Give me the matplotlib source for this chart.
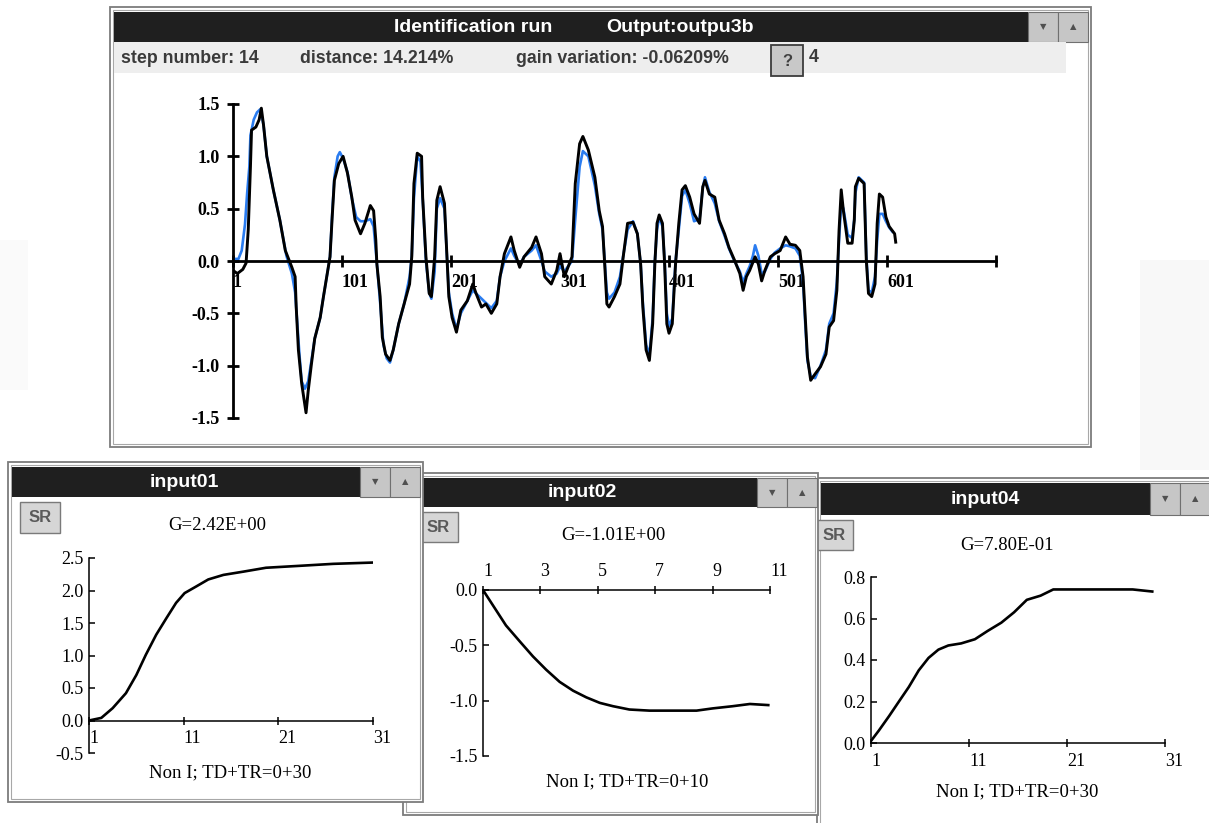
import matplotlib
matplotlib.use("Agg")
import matplotlib.pyplot as plt
from matplotlib.patches import Rectangle
import numpy as np

W, H = 1209, 823

# ---------------- data ----------------
main_xticks = [1, 101, 201, 301, 401, 501, 601, 701]
main_xticklabels = ["1", "101", "201", "301", "401", "501", "601", ""]
main_yticks = [-1.5, -1.0, -0.5, 0.0, 0.5, 1.0, 1.5]

# model output (black): (sample, value)
black_pts = [(1, -0.09), (5, -0.12), (10, -0.08), (13, -0.02), (15, 0.3), (17, 0.9), (18, 1.25),
             (22, 1.28), (25, 1.35), (27, 1.46), (29, 1.3), (32, 1.0), (38, 0.68), (44, 0.39),
             (49, 0.1), (55, -0.06), (58, -0.15), (59, -0.44), (61, -0.85), (64, -1.17), (68, -1.45),
             (70, -1.24), (73, -0.98), (76, -0.74), (81, -0.54), (84, -0.34), (87, -0.15), (90, 0.04),
             (92, 0.42), (94, 0.77), (98, 0.93), (102, 1.0), (106, 0.84), (110, 0.61), (113, 0.39),
             (118, 0.26), (122, 0.36), (127, 0.53), (130, 0.48), (132, 0.2), (133, -0.03), (136, -0.34),
             (138, -0.73), (141, -0.89), (145, -0.95), (148, -0.85), (153, -0.6), (158, -0.41),
             (163, -0.22), (165, 0.04), (167, 0.74), (170, 1.03), (174, 1.0), (175, 0.61), (178, 0.04),
             (181, -0.31), (183, -0.34), (186, 0.04), (188, 0.58), (191, 0.71), (195, 0.55), (197, 0.1),
             (199, -0.34), (202, -0.54), (206, -0.68), (210, -0.47), (216, -0.38), (221, -0.22),
             (224, -0.31), (229, -0.44), (233, -0.41), (238, -0.5), (243, -0.41), (246, -0.15),
             (250, 0.07), (256, 0.23), (259, 0.1), (264, -0.06), (268, 0.04), (275, 0.13), (279, 0.23),
             (284, 0.07), (287, -0.15), (293, -0.22), (298, -0.09), (301, 0.07), (305, -0.15),
             (312, 0.04), (315, 0.74), (319, 1.12), (322, 1.19), (327, 1.06), (333, 0.8), (337, 0.48),
             (340, 0.33), (342, -0.03), (344, -0.41), (346, -0.44), (351, -0.34), (356, -0.22),
             (359, 0.04), (363, 0.36), (368, 0.37), (372, 0.26), (375, -0.03), (377, -0.44),
             (380, -0.85), (383, -0.95), (386, -0.6), (388, -0.03), (390, 0.36), (392, 0.44),
             (395, 0.36), (397, -0.03), (399, -0.6), (401, -0.69), (404, -0.6), (407, -0.03),
             (410, 0.36), (413, 0.68), (416, 0.72), (420, 0.61), (424, 0.45), (429, 0.36), (432, 0.71),
             (434, 0.77), (438, 0.64), (443, 0.61), (447, 0.39), (452, 0.26), (456, 0.13), (461, 0.01),
             (466, -0.12), (469, -0.28), (472, -0.15), (475, -0.09), (480, 0.04), (483, -0.03),
             (486, -0.19), (489, -0.09), (494, 0.04), (498, 0.07), (503, 0.1), (508, 0.23), (512, 0.16),
             (517, 0.15), (521, 0.1), (524, -0.15), (526, -0.54), (528, -0.92), (531, -1.14),
             (535, -1.08), (540, -1.01), (545, -0.89), (548, -0.63), (552, -0.57), (555, -0.28),
             (557, 0.29), (559, 0.68), (561, 0.48), (565, 0.17), (569, 0.17), (571, 0.39), (572, 0.71),
             (575, 0.79), (580, 0.74), (582, 0.01), (584, -0.31), (587, -0.34), (590, -0.22),
             (592, 0.36), (594, 0.64), (597, 0.61), (600, 0.42), (603, 0.33), (608, 0.26), (609, 0.18)]

# measured output (blue)
blue_pts = [(1, 0.02), (6, 0.02), (9, 0.1), (12, 0.35), (14, 0.65), (16, 0.9), (17, 1.2), (20, 1.35),
            (23, 1.42), (26, 1.45), (29, 1.3), (32, 1.0), (38, 0.68), (44, 0.39), (50, 0.05),
            (55, -0.12), (58, -0.3), (60, -0.6), (62, -0.9), (64, -1.15), (67, -1.22), (70, -1.15),
            (73, -0.95), (76, -0.74), (81, -0.54), (84, -0.34), (87, -0.15), (90, 0.04), (92, 0.45),
            (94, 0.8), (97, 1.0), (99, 1.04), (102, 0.98), (106, 0.85), (110, 0.6), (114, 0.42),
            (118, 0.38), (122, 0.38), (127, 0.4), (130, 0.33), (132, 0.1), (134, -0.15), (136, -0.4),
            (139, -0.8), (142, -0.93), (145, -0.97), (148, -0.85), (153, -0.6), (158, -0.41),
            (163, -0.15), (165, 0.05), (167, 0.6), (170, 1.0), (173, 0.95), (175, 0.6), (178, 0.0),
            (181, -0.3), (183, -0.36), (186, -0.1), (188, 0.5), (191, 0.6), (195, 0.5), (197, 0.1),
            (199, -0.3), (202, -0.5), (206, -0.65), (210, -0.5), (216, -0.38), (221, -0.28),
            (226, -0.33), (231, -0.38), (238, -0.45), (243, -0.38), (246, -0.15), (250, 0.0),
            (256, 0.12), (259, 0.05), (264, -0.04), (268, 0.04), (275, 0.1), (279, 0.15), (284, 0.0),
            (287, -0.1), (293, -0.15), (298, -0.12), (301, -0.05), (305, -0.1), (312, 0.0), (315, 0.4),
            (319, 0.9), (322, 1.05), (327, 1.0), (333, 0.72), (337, 0.45), (340, 0.3), (342, 0.0),
            (344, -0.3), (346, -0.36), (351, -0.3), (356, -0.15), (359, 0.05), (363, 0.3), (368, 0.38),
            (372, 0.26), (375, -0.03), (377, -0.4), (380, -0.8), (383, -0.9), (386, -0.55), (388, 0.0),
            (390, 0.3), (392, 0.42), (395, 0.33), (397, 0.0), (399, -0.5), (401, -0.62), (404, -0.55),
            (407, 0.0), (410, 0.3), (413, 0.62), (416, 0.68), (420, 0.55), (424, 0.38), (429, 0.4),
            (432, 0.7), (434, 0.8), (438, 0.66), (443, 0.55), (447, 0.38), (452, 0.24), (456, 0.12),
            (461, 0.0), (466, -0.1), (469, -0.2), (472, -0.12), (475, -0.05), (478, 0.05), (480, 0.15),
            (483, 0.05), (486, -0.12), (489, -0.1), (494, 0.02), (498, 0.08), (503, 0.12), (508, 0.15),
            (512, 0.14), (517, 0.12), (521, 0.05), (524, -0.2), (526, -0.6), (528, -0.95), (531, -1.1),
            (535, -1.12), (540, -1.0), (545, -0.85), (548, -0.6), (552, -0.5), (555, -0.2), (557, 0.2),
            (559, 0.55), (561, 0.5), (565, 0.25), (569, 0.22), (571, 0.4), (572, 0.65), (575, 0.8),
            (580, 0.75), (582, 0.05), (584, -0.28), (587, -0.3), (590, -0.15), (592, 0.2), (594, 0.45),
            (597, 0.45), (600, 0.38), (603, 0.32), (606, 0.28)]

# step responses
in01_x = [1, 2.3, 3.5, 4.9, 6, 7, 8.1, 9.2, 10.2, 11.1, 12.3, 13.6, 15.2, 17.3, 19.7, 23.3, 26.8, 31]
in01_y = [0.0, 0.04, 0.19, 0.42, 0.7, 1.01, 1.32, 1.58, 1.81, 1.96, 2.06, 2.17, 2.24, 2.29, 2.35, 2.38, 2.41, 2.43]
in01_xticks = [1, 11, 21, 31]
in01_yticks = [-0.5, 0.0, 0.5, 1.0, 1.5, 2.0, 2.5]

in02_x = [1, 1.35, 1.8, 2.3, 2.74, 3.2, 3.67, 4.14, 4.6, 5.07, 5.53, 6.1, 6.8, 7.6, 8.44, 9.0, 9.7, 10.3, 10.94]
in02_y = [0.0, -0.14, -0.32, -0.47, -0.6, -0.72, -0.83, -0.91, -0.97, -1.02, -1.05, -1.08, -1.09, -1.09,
          -1.09, -1.07, -1.05, -1.03, -1.04]
in02_xticks = [1, 3, 5, 7, 9, 11]
in02_yticks = [-1.5, -1.0, -0.5, 0.0]

in04_x = [1, 1.8, 2.85, 3.85, 4.86, 5.87, 6.87, 7.88, 8.89, 10.2, 11.6, 12.9, 14.3, 15.6, 16.9, 18.3,
          19.6, 21.6, 25, 27.7, 29.7]
in04_y = [0.01, 0.06, 0.13, 0.2, 0.27, 0.35, 0.41, 0.45, 0.47, 0.48, 0.5, 0.54, 0.58, 0.63, 0.69, 0.71,
          0.74, 0.74, 0.74, 0.74, 0.73]
in04_xticks = [1, 11, 21, 31]
in04_yticks = [0.0, 0.2, 0.4, 0.6, 0.8]

# ---------------- drawing ----------------
SANS = ["Liberation Sans", "DejaVu Sans"]
SERIF = ["Liberation Serif", "DejaVu Serif"]

fig = plt.figure(figsize=(W / 100, H / 100), dpi=100)
fig.patch.set_facecolor("white")
bg = fig.add_axes([0, 0, 1, 1])
bg.set_xlim(0, W)
bg.set_ylim(H, 0)
bg.axis("off")


def rect(x0, y0, x1, y1, fc, ec="none", lw=0.0, z=1):
    bg.add_patch(Rectangle((x0, y0), x1 - x0, y1 - y0, facecolor=fc, edgecolor=ec, linewidth=lw, zorder=z))


def window(x0, y0, x1, y1, tb_y0, tb_y1, tb_right, z):
    rect(x0, y0, x1, y1, "white", "#7c7c7c", 1.3, z)
    rect(x0 + 3, y0 + 3, x1 - 3, y1 - 3, "none", "#a8a8a8", 0.8, z + 0.01)
    rect(x0 + 4, tb_y0, tb_right, tb_y1, "#1f1f1f", "none", 0, z + 0.02)
    for k, glyph in enumerate(["\u25BC", "\u25B2"]):
        bx0 = tb_right + 30 * k
        rect(bx0, tb_y0, bx0 + 30, tb_y1, "#c6c6c6", "#707070", 0.8, z + 0.02)
        bg.text(bx0 + 15, (tb_y0 + tb_y1) / 2, glyph, ha="center", va="center", fontsize=6,
                color="#505050", zorder=z + 0.03, family=["DejaVu Sans"])


def title(x, y, s, z):
    bg.text(x, y, s, ha="center", va="center", color="white", fontsize=14, fontweight="bold",
            family=SANS, zorder=z + 0.03)


def sr_button(x0, y0, x1, y1, z):
    rect(x0, y0, x1, y1, "#d6d6d6", "#7a7a7a", 1.0, z)
    bg.text((x0 + x1) / 2, (y0 + y1) / 2, "SR", ha="center", va="center", fontsize=12,
            fontweight="bold", color="#5a5a5a", family=SANS, zorder=z + 0.01)


# faint page background artefacts
rect(1140, 260, 1209, 470, "#f8f8f8", z=0.5)
rect(0, 240, 28, 390, "#fafafa", z=0.5)

# main window
window(110, 7, 1091, 447, 12, 42, 1028, 1)
title(473, 27, "Identification run", 1)
title(680, 27, "Output:outpu3b", 1)
rect(114, 42, 1066, 73, "#eeeeee", z=1.05)
info_kw = dict(va="center", fontsize=12.8, fontweight="bold", color="#3a3a3a", family=SANS, zorder=1.1)
bg.text(121, 58, "step number: 14", **info_kw)
bg.text(300, 58, "distance: 14.214%", **info_kw)
bg.text(516, 58, "gain variation: -0.06209%", **info_kw)
rect(771, 45, 803, 76, "#c8c8c8", "#3c3c3c", 1.3, 1.1)
bg.text(787, 61, "?", ha="center", va="center", fontsize=12, fontweight="bold", color="#404040",
        family=SANS, zorder=1.2)
bg.text(809, 57, "4", **info_kw)

# small windows: stacking input04 < input02 < input01
window(817, 478, 1240, 850, 483, 515, 1150, 2)
title(985, 499, "input04", 2)
sr_button(815, 520, 853, 550, 2.1)
window(403, 473, 818, 815, 478, 507, 757, 3)
title(582, 492, "input02", 3)
sr_button(418, 512, 458, 542, 3.1)
window(8, 462, 423, 802, 467, 497, 360, 4)
title(184, 482, "input01", 4)
sr_button(20, 502, 60, 533, 4.1)

serif_kw = dict(ha="center", va="center", fontsize=13.5, color="black", family=SERIF, zorder=5)
bg.text(217, 525, "G=2.42E+00", **serif_kw)
bg.text(230, 773, "Non I; TD+TR=0+30", **serif_kw)
bg.text(613, 535, "G=-1.01E+00", **serif_kw)
bg.text(627, 782, "Non I; TD+TR=0+10", **serif_kw)
bg.text(1007, 545, "G=7.80E-01", **serif_kw)
bg.text(1017, 792, "Non I; TD+TR=0+30", **serif_kw)


def add_ax(x0, y0, x1, y1):
    a = fig.add_axes([x0 / W, 1 - y1 / H, (x1 - x0) / W, (y1 - y0) / H])
    a.set_facecolor("none")
    return a


# ---- main chart ----
ax = add_ax(233, 104, 996, 418)
ax.set_xlim(1, 701)
ax.set_ylim(-1.5, 1.5)
bx, by = zip(*blue_pts)
kx, ky = zip(*black_pts)
ax.plot(bx, by, color="#2a7cf0", lw=1.9, zorder=2)
ax.plot(kx, ky, color="black", lw=2.1, zorder=3)
for s in ["top", "right"]:
    ax.spines[s].set_visible(False)
ax.spines["bottom"].set_position(("data", 0))
ax.spines["left"].set_linewidth(2)
ax.spines["bottom"].set_linewidth(2)
ax.set_xticks(main_xticks)
ax.set_xticklabels(main_xticklabels)
ax.set_yticks(main_yticks)
ax.set_yticklabels([f"{v:.1f}" for v in main_yticks])
ax.tick_params(axis="both", direction="inout", length=9, width=2, labelsize=13, pad=5)
for lab in ax.get_xticklabels():
    lab.set_ha("left")
for lab in ax.get_xticklabels() + ax.get_yticklabels():
    lab.set_family(SERIF)
    lab.set_fontweight("bold")


def small(a, xs, ys, xt, yt, xlim, ylim, top=False):
    a.plot(xs, ys, color="black", lw=1.9)
    a.set_xlim(*xlim)
    a.set_ylim(*ylim)
    a.spines["right"].set_visible(False)
    if top:
        a.spines["bottom"].set_visible(False)
        a.xaxis.tick_top()
    else:
        a.spines["top"].set_visible(False)
        a.spines["bottom"].set_position(("data", 0))
    for s in a.spines.values():
        s.set_linewidth(1.1)
    a.set_xticks(xt)
    a.set_xticklabels([str(v) for v in xt])
    a.set_yticks(yt)
    a.set_yticklabels([f"{v:.1f}" for v in yt])
    a.tick_params(axis="x", direction="inout", length=6, width=1.1, labelsize=13, pad=4)
    a.tick_params(axis="y", direction="in", length=4, width=1.1, labelsize=13, pad=4)
    for lab in a.get_xticklabels():
        lab.set_ha("left")
    for lab in a.get_xticklabels() + a.get_yticklabels():
        lab.set_family(SERIF)


a1 = add_ax(89, 558, 373, 753)
small(a1, in01_x, in01_y, in01_xticks, in01_yticks, (1, 31), (-0.5, 2.5))
a2 = add_ax(483, 590, 770, 756)
small(a2, in02_x, in02_y, in02_xticks, in02_yticks, (1, 11), (-1.5, 0.0), top=True)
a4 = add_ax(871, 577, 1165, 743)
small(a4, in04_x, in04_y, in04_xticks, in04_yticks, (1, 31), (0.0, 0.8))

fig.savefig("out.png", dpi=100, facecolor="white")
